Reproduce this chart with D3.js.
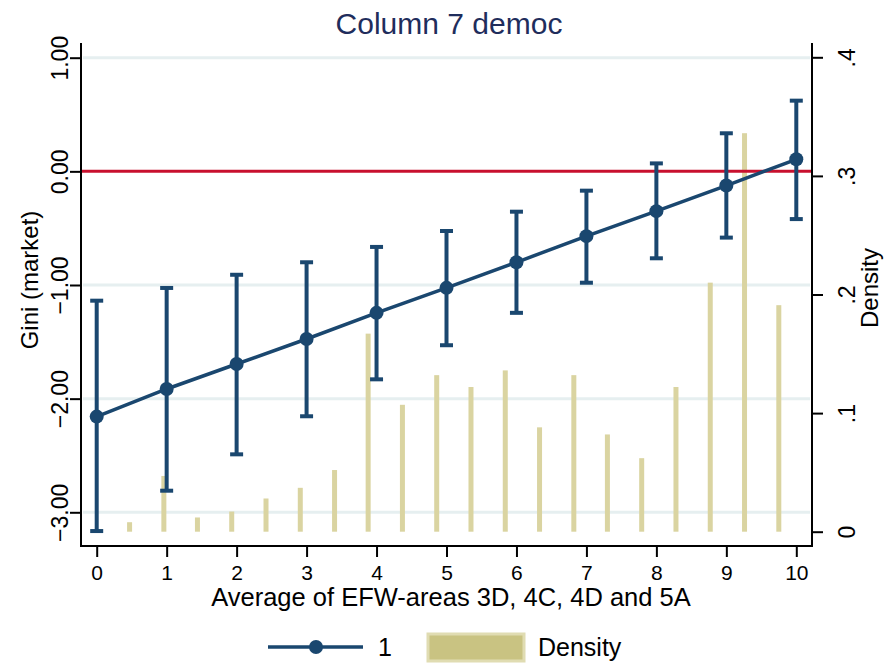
<!DOCTYPE html>
<html>
<head>
<meta charset="utf-8">
<script src="https://cdn.jsdelivr.net/npm/d3@7"></script>
<style>
  html, body { margin: 0; padding: 0; background: #ffffff; }
  svg { display: block; font-family: "Liberation Sans", Arial, Helvetica, sans-serif; }
</style>
</head>
<body>
<svg id="chart" width="888" height="667"></svg>
<script>
// Marginal effect of democracy on market Gini across EFW levels
const efwLevels = [0, 1, 2, 3, 4, 5, 6, 7, 8, 9, 10];
const effect    = [-2.158, -1.915, -1.695, -1.475, -1.245, -1.025, -0.800, -0.570, -0.350, -0.125, 0.106];
const ciLower   = [-3.165, -2.810, -2.490, -2.155, -1.830, -1.530, -1.245, -0.980, -0.765, -0.583, -0.420];
const ciUpper   = [-1.138, -1.026, -0.910, -0.800, -0.665, -0.525, -0.355, -0.170, 0.070, 0.335, 0.622];

// Histogram of the EFW average (bin midpoints and densities)
const binMids   = [0.47, 0.96, 1.44, 1.93, 2.42, 2.91, 3.40, 3.88, 4.37, 4.86, 5.35, 5.84, 6.33, 6.82, 7.30, 7.79, 8.28, 8.77, 9.26, 9.75];
const densities = [0.008, 0.047, 0.012, 0.017, 0.028, 0.037, 0.052, 0.167, 0.107, 0.132, 0.122, 0.136, 0.088, 0.132, 0.082, 0.062, 0.122, 0.210, 0.336, 0.191];

const xTicks      = [0, 1, 2, 3, 4, 5, 6, 7, 8, 9, 10];
const leftTicks   = [1, 0, -1, -2, -3];
const rightTicks  = [0, 0.1, 0.2, 0.3, 0.4];

const navy = "#1a476f";
const sand = "#dad4a1";
const red  = "#c8102e";
const grid = "#e6eff0";

const svg = d3.select("#chart");

// Plot region frame
const plot = { left: 81, right: 812, top: 43, bottom: 546 };

const x  = d3.scaleLinear().domain([0, 10]).range([96.7, 796.3]);
const yL = d3.scaleLinear().domain([1, -3]).range([57.7, 512.3]);
const yR = d3.scaleLinear().domain([0, 0.4]).range([531.7, 57.3]);

// Title
svg.append("text")
  .attr("x", 449).attr("y", 34)
  .attr("text-anchor", "middle")
  .attr("font-size", 30)
  .attr("fill", "#1f2d5c")
  .text("Column 7 democ");

// Horizontal grid at the left-axis ticks
svg.append("g").selectAll("line")
  .data(leftTicks.filter(t => t !== 0))
  .join("line")
  .attr("x1", plot.left + 2).attr("x2", plot.right - 2)
  .attr("y1", d => yL(d)).attr("y2", d => yL(d))
  .attr("stroke", grid).attr("stroke-width", 3);

// Density bars
svg.append("g").selectAll("rect")
  .data(binMids.map((m, i) => ({ m, d: densities[i] })))
  .join("rect")
  .attr("x", d => x(d.m) - 2.5)
  .attr("width", 5)
  .attr("y", d => yR(d.d))
  .attr("height", d => yR(0) - yR(d.d))
  .attr("fill", sand);

// Zero reference line
svg.append("line")
  .attr("x1", plot.left + 1).attr("x2", plot.right - 1)
  .attr("y1", yL(0)).attr("y2", yL(0))
  .attr("stroke", red).attr("stroke-width", 3);

// Confidence intervals
const ci = svg.append("g").attr("stroke", navy).attr("stroke-width", 4);
efwLevels.forEach((lv, i) => {
  ci.append("line").attr("x1", x(lv)).attr("x2", x(lv))
    .attr("y1", yL(ciUpper[i])).attr("y2", yL(ciLower[i]));
  ci.append("line").attr("x1", x(lv) - 6.5).attr("x2", x(lv) + 6.5)
    .attr("y1", yL(ciUpper[i])).attr("y2", yL(ciUpper[i]));
  ci.append("line").attr("x1", x(lv) - 6.5).attr("x2", x(lv) + 6.5)
    .attr("y1", yL(ciLower[i])).attr("y2", yL(ciLower[i]));
});

// Point estimates
const pts = efwLevels.map((lv, i) => [lv, effect[i]]);
svg.append("path")
  .datum(pts)
  .attr("fill", "none").attr("stroke", navy).attr("stroke-width", 3.5)
  .attr("d", d3.line().x(d => x(d[0])).y(d => yL(d[1])));
svg.append("g").selectAll("circle")
  .data(pts).join("circle")
  .attr("cx", d => x(d[0])).attr("cy", d => yL(d[1])).attr("r", 7)
  .attr("fill", navy);

// Axes
const axisStyle = g => {
  g.select(".domain").remove();
  g.selectAll(".tick line").attr("stroke", "#000").attr("stroke-width", 2);
  g.selectAll(".tick text").attr("fill", "#000");
};

// Bottom axis
const gx = svg.append("g").attr("transform", `translate(0,${plot.bottom})`)
  .call(d3.axisBottom(x).tickValues(xTicks).tickSize(11).tickPadding(8).tickFormat(d3.format("d")))
  .call(axisStyle);
gx.selectAll(".tick text").attr("font-size", 21).attr("font-family", "Liberation Sans, Arial, sans-serif");

// Left axis (rotated labels)
const gl = svg.append("g").attr("transform", `translate(${plot.left},0)`)
  .call(d3.axisLeft(yL).tickValues(leftTicks).tickSize(11).tickFormat(d3.format(".2f")))
  .call(axisStyle);
gl.selectAll(".tick text")
  .attr("font-size", 23).attr("font-family", "Liberation Sans, Arial, sans-serif")
  .attr("text-anchor", "middle")
  .attr("x", null).attr("dy", null)
  .attr("transform", "translate(-13,0) rotate(-90)");

// Right axis (rotated labels)
const fmtR = d => d === 0 ? "0" : d3.format(".1f")(d).replace(/^0/, "");
const gr = svg.append("g").attr("transform", `translate(${plot.right},0)`)
  .call(d3.axisRight(yR).tickValues(rightTicks).tickSize(11).tickFormat(fmtR))
  .call(axisStyle);
gr.selectAll(".tick text")
  .attr("font-size", 23).attr("font-family", "Liberation Sans, Arial, sans-serif")
  .attr("text-anchor", "middle")
  .attr("x", null).attr("dy", null)
  .attr("transform", "translate(43,0) rotate(-90)");

// Axis frame lines
svg.append("line").attr("x1", plot.left).attr("x2", plot.left)
  .attr("y1", plot.top).attr("y2", plot.bottom + 1).attr("stroke", "#000").attr("stroke-width", 2);
svg.append("line").attr("x1", plot.right).attr("x2", plot.right)
  .attr("y1", plot.top).attr("y2", plot.bottom + 1).attr("stroke", "#000").attr("stroke-width", 2);
svg.append("line").attr("x1", plot.left - 1).attr("x2", plot.right + 1)
  .attr("y1", plot.bottom).attr("y2", plot.bottom).attr("stroke", "#000").attr("stroke-width", 2);

// Axis titles
svg.append("text")
  .attr("transform", "translate(38,280) rotate(-90)")
  .attr("text-anchor", "middle").attr("font-size", 24)
  .text("Gini (market)");
svg.append("text")
  .attr("transform", "translate(878,288) rotate(-90)")
  .attr("text-anchor", "middle").attr("font-size", 24)
  .text("Density");
svg.append("text")
  .attr("x", 451).attr("y", 606)
  .attr("text-anchor", "middle").attr("font-size", 25.5)
  .text("Average of EFW-areas 3D, 4C, 4D and 5A");

// Legend
const lg = svg.append("g");
lg.append("line").attr("x1", 268).attr("x2", 363).attr("y1", 647).attr("y2", 647)
  .attr("stroke", navy).attr("stroke-width", 3.5);
lg.append("circle").attr("cx", 316).attr("cy", 647).attr("r", 7).attr("fill", navy);
lg.append("text").attr("x", 378).attr("y", 656).attr("font-size", 25).text("1");
lg.append("rect").attr("x", 428).attr("y", 634).attr("width", 96).attr("height", 27)
  .attr("fill", "#c9c382").attr("stroke", "#e0dcb2").attr("stroke-width", 3);
lg.append("text").attr("x", 538).attr("y", 656).attr("font-size", 25).text("Density");
</script>
</body>
</html>
